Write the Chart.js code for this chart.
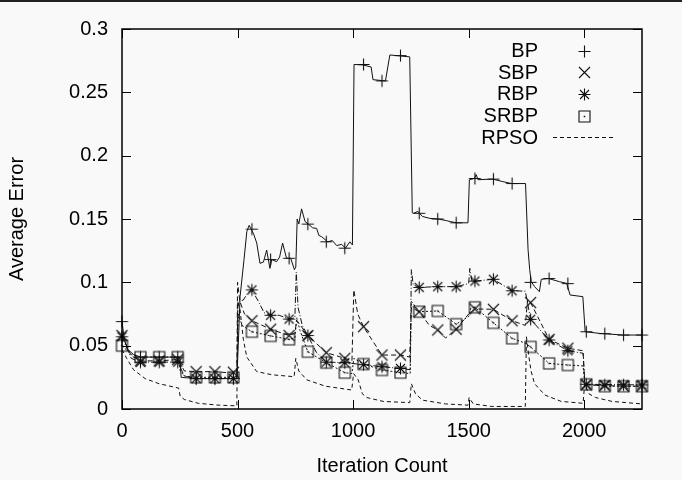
<!DOCTYPE html>
<html><head><meta charset="utf-8">
<script src="https://cdn.jsdelivr.net/npm/chart.js@4"></script>
<style>
html,body{margin:0;padding:0;background:#f9f9f9;}
#wrap{position:relative;width:682px;height:480px;overflow:hidden;}
#bar{position:absolute;left:0;top:0;width:682px;height:2px;background:#222;}
canvas{display:block;}
</style></head><body>
<div id="wrap"><canvas id="c" width="682" height="480"></canvas><div id="bar"></div></div>
<script>
const seriesNames = ['BP','SBP','RBP','SRBP','RPSO'];
const xTickValues = [0,500,1000,1500,2000];
const xTickLabels = ['0','500','1000','1500','2000'];
const yTickValues = [0,0.05,0.1,0.15,0.2,0.25,0.3];
const yTickLabels = ['0','0.05','0.1','0.15','0.2','0.25','0.3'];
const xTitle = 'Iteration Count';
const yTitle = 'Average Error';

// iterations at which the point symbols are drawn
const markerX = [0,80,161,241,321,402,482,562,643,723,804,884,964,1045,1125,1205,1286,1366,1446,1527,1607,1688,1768,1848,1929,2009,2089,2170,2250];
const bpMarks   = [0.069,0.041,0.041,0.041,0.024,0.024,0.024,0.142,0.118,0.119,0.146,0.132,0.127,0.272,0.259,0.279,0.1545,0.150,0.147,0.182,0.1815,0.178,0.100,0.103,0.099,0.061,0.0595,0.0584,0.0584];
const sbpMarks  = [0.058,0.038,0.038,0.039,0.0295,0.0295,0.029,0.0697,0.063,0.058,0.058,0.0445,0.040,0.065,0.0426,0.0426,0.0768,0.0624,0.063,0.079,0.0787,0.0697,0.084,0.055,0.048,0.019,0.0185,0.018,0.018];
const rbpMarks  = [0.057,0.037,0.037,0.037,0.024,0.024,0.024,0.094,0.074,0.071,0.058,0.037,0.0366,0.035,0.0334,0.032,0.096,0.0966,0.0966,0.101,0.1024,0.0934,0.0708,0.0545,0.046,0.0195,0.019,0.019,0.019];
const srbpMarks = [0.050,0.041,0.041,0.041,0.025,0.025,0.025,0.061,0.0577,0.055,0.0452,0.0366,0.0287,0.0355,0.0308,0.0287,0.0768,0.0774,0.067,0.0803,0.068,0.0558,0.049,0.036,0.0347,0.0195,0.018,0.018,0.018];

// traced curves [iteration, error]
const bpLine = [[0,0.069],[10,0.055],[25,0.047],[50,0.043],[80,0.041],[160,0.041],[250,0.041],[256,0.025],[320,0.024],[400,0.024],[497,0.024],[503,0.05],[511,0.089],[528,0.118],[540,0.14],[550,0.145],[557,0.1426],[570,0.138],[583,0.131],[597,0.115],[612,0.116],[626,0.1255],[640,0.111],[648,0.118],[669,0.1163],[682,0.12],[695,0.131],[712,0.119],[730,0.119],[746,0.11],[752,0.112],[758,0.15],[765,0.146],[777,0.158],[792,0.148],[806,0.146],[825,0.143],[842,0.1426],[852,0.137],[864,0.136],[890,0.132],[910,0.133],[929,0.129],[950,0.13],[967,0.127],[986,0.132],[997,0.1295],[1004,0.272],[1043,0.2716],[1078,0.27],[1086,0.26],[1140,0.259],[1159,0.2795],[1245,0.278],[1256,0.155],[1262,0.1545],[1280,0.156],[1300,0.152],[1332,0.1505],[1368,0.15],[1404,0.1487],[1420,0.148],[1447,0.147],[1497,0.147],[1503,0.181],[1525,0.182],[1533,0.185],[1540,0.181],[1604,0.1815],[1648,0.1795],[1685,0.178],[1746,0.178],[1757,0.126],[1764,0.11],[1771,0.1005],[1785,0.0966],[1806,0.0926],[1814,0.1024],[1846,0.103],[1893,0.1005],[1924,0.0992],[1939,0.09],[1994,0.0887],[2004,0.061],[2066,0.0597],[2167,0.0584],[2250,0.0584]];
const sbpLine = [[0,0.058],[40,0.042],[80,0.038],[160,0.038],[241,0.039],[255,0.035],[270,0.03],[321,0.0295],[402,0.0295],[497,0.028],[500,0.1],[510,0.085],[530,0.075],[562,0.0697],[643,0.063],[723,0.058],[748,0.06],[756,0.07],[804,0.058],[884,0.0445],[964,0.040],[995,0.038],[1003,0.094],[1020,0.075],[1045,0.065],[1080,0.055],[1125,0.0426],[1205,0.0426],[1245,0.041],[1252,0.08],[1286,0.0768],[1330,0.066],[1366,0.0624],[1400,0.056],[1446,0.063],[1500,0.075],[1527,0.079],[1607,0.0787],[1688,0.0697],[1745,0.066],[1755,0.086],[1768,0.084],[1848,0.055],[1929,0.048],[1995,0.046],[2002,0.02],[2009,0.019],[2089,0.0185],[2170,0.018],[2250,0.018]];
const rbpLine = [[0,0.057],[40,0.04],[80,0.037],[241,0.037],[252,0.033],[270,0.026],[321,0.024],[497,0.024],[502,0.085],[525,0.086],[545,0.092],[562,0.094],[590,0.085],[615,0.076],[643,0.074],[680,0.074],[723,0.071],[748,0.072],[754,0.108],[762,0.08],[780,0.066],[804,0.058],[840,0.045],[884,0.037],[964,0.0366],[1045,0.035],[1125,0.0334],[1205,0.032],[1247,0.031],[1252,0.11],[1260,0.098],[1286,0.096],[1366,0.0966],[1446,0.0966],[1500,0.099],[1505,0.111],[1515,0.1],[1527,0.101],[1607,0.1024],[1688,0.0934],[1745,0.093],[1768,0.0708],[1848,0.0545],[1929,0.046],[1995,0.044],[2003,0.02],[2009,0.0195],[2250,0.019]];
const srbpLine = [[0,0.05],[40,0.043],[80,0.041],[241,0.041],[252,0.03],[270,0.026],[321,0.025],[497,0.025],[503,0.075],[520,0.066],[562,0.061],[643,0.0577],[723,0.055],[748,0.056],[756,0.072],[770,0.062],[804,0.0452],[884,0.0366],[964,0.0287],[995,0.028],[1003,0.04],[1045,0.0355],[1125,0.0308],[1205,0.0287],[1247,0.028],[1252,0.085],[1286,0.0768],[1366,0.0774],[1446,0.067],[1500,0.073],[1510,0.08],[1527,0.0803],[1607,0.068],[1688,0.0558],[1745,0.052],[1768,0.049],[1848,0.036],[1929,0.0347],[1995,0.034],[2003,0.02],[2009,0.0195],[2089,0.018],[2250,0.018]];
const rpsoLine = [[0,0.047],[20,0.04],[50,0.031],[100,0.024],[160,0.02],[245,0.0165],[252,0.01],[270,0.0075],[330,0.0045],[420,0.003],[497,0.0025],[501,0.085],[511,0.078],[525,0.055],[540,0.041],[583,0.0295],[650,0.027],[745,0.0255],[752,0.04],[765,0.03],[800,0.023],[880,0.018],[994,0.015],[1002,0.028],[1022,0.023],[1040,0.012],[1060,0.009],[1130,0.006],[1245,0.005],[1252,0.02],[1270,0.012],[1300,0.007],[1400,0.004],[1497,0.003],[1502,0.009],[1520,0.004],[1600,0.002],[1745,0.002],[1750,0.057],[1760,0.042],[1770,0.03],[1785,0.02],[1830,0.011],[1900,0.006],[1995,0.0045],[2002,0.02],[2020,0.012],[2050,0.009],[2120,0.006],[2250,0.004]];

const FONT = '"Liberation Sans", Arial, Helvetica, sans-serif';
const INK = '#111';

function makeMarker(type){
  const s = 17, m = 8.5;
  const c = document.createElement('canvas');
  c.width = s; c.height = s;
  const g = c.getContext('2d');
  g.strokeStyle = INK; g.lineWidth = 1.1;
  g.beginPath();
  if (type === 'plus' || type === 'star') {
    g.moveTo(m - 6, m); g.lineTo(m + 6, m);
    g.moveTo(m, m - 6); g.lineTo(m, m + 6);
  }
  if (type === 'cross' || type === 'star') {
    const d = type === 'star' ? 4.5 : 5.5;
    g.moveTo(m - d, m - d); g.lineTo(m + d, m + d);
    g.moveTo(m - d, m + d); g.lineTo(m + d, m - d);
  }
  if (type === 'square') g.rect(m - 5.5, m - 5.5, 11, 11);
  g.stroke();
  if (type === 'square') { g.fillStyle = INK; g.fillRect(m - 0.75, m - 0.75, 1.5, 1.5); }
  return c;
}
const symbols = [makeMarker('plus'), makeMarker('cross'), makeMarker('star'), makeMarker('square')];

const toXY = arr => arr.map(p => ({x: p[0], y: p[1]}));
const lineDs = (label, arr, dash) => ({
  label, data: toXY(arr), showLine: true, borderColor: INK, borderWidth: 1,
  borderDash: dash, pointRadius: 0, tension: 0, fill: false
});
const markDs = (label, ys, sym) => ({
  label, data: markerX.map((x, i) => ({x, y: ys[i]})), showLine: false,
  pointStyle: sym, pointRadius: 6, clip: false
});

const frame = {
  id: 'frame',
  afterDraw(chart) {
    const {ctx, chartArea: a, scales: {x, y}} = chart;
    ctx.save();
    ctx.strokeStyle = '#000';
    ctx.lineWidth = 1.5;
    ctx.strokeRect(a.left, a.top, a.right - a.left, a.bottom - a.top);
    ctx.lineWidth = 1;
    ctx.beginPath();
    xTickValues.forEach(v => {
      const p = Math.round(x.getPixelForValue(v)) + 0.5;
      ctx.moveTo(p, a.bottom); ctx.lineTo(p, a.bottom - 9);
      ctx.moveTo(p, a.top); ctx.lineTo(p, a.top + 9);
    });
    yTickValues.forEach(v => {
      const p = Math.round(y.getPixelForValue(v)) + 0.5;
      ctx.moveTo(a.left, p); ctx.lineTo(a.left + 9, p);
      ctx.moveTo(a.right, p); ctx.lineTo(a.right - 9, p);
    });
    ctx.stroke();
    // key
    ctx.font = '20px ' + FONT;
    ctx.fillStyle = '#000';
    ctx.textAlign = 'right';
    ctx.textBaseline = 'middle';
    const tx = a.right - 104, sx = a.right - 58;
    seriesNames.forEach((name, i) => {
      const yy = a.top + 21.5 + i * 21.7;
      ctx.fillText(name, tx, yy + 1);
      if (i < 4) {
        const s = symbols[i];
        ctx.drawImage(s, Math.round(sx) - 8, Math.round(yy) - 8);
      } else {
        ctx.strokeStyle = INK;
        ctx.setLineDash([4, 3]);
        ctx.beginPath();
        ctx.moveTo(sx - 31, Math.round(yy) + 0.5);
        ctx.lineTo(sx + 29, Math.round(yy) + 0.5);
        ctx.stroke();
        ctx.setLineDash([]);
      }
    });
    ctx.restore();
  }
};

new Chart(document.getElementById('c'), {
  type: 'scatter',
  data: {
    datasets: [
      lineDs('BP curve', bpLine, []),
      lineDs('SBP curve', sbpLine, [5, 3]),
      lineDs('RBP curve', rbpLine, [6, 2, 1, 2]),
      lineDs('SRBP curve', srbpLine, [2, 2]),
      lineDs(seriesNames[4], rpsoLine, [4, 3]),
      markDs(seriesNames[0], bpMarks, symbols[0]),
      markDs(seriesNames[1], sbpMarks, symbols[1]),
      markDs(seriesNames[2], rbpMarks, symbols[2]),
      markDs(seriesNames[3], srbpMarks, symbols[3])
    ]
  },
  options: {
    responsive: false,
    animation: false,
    devicePixelRatio: 1,
    layout: {padding: {top: 29, right: 40, left: 0, bottom: 0}},
    plugins: {legend: {display: false}, tooltip: {enabled: false}},
    scales: {
      x: {
        type: 'linear', min: 0, max: 2250,
        grid: {display: false, drawTicks: false},
        border: {display: false},
        afterBuildTicks(s) { s.ticks = xTickValues.map(v => ({value: v})); },
        ticks: {
          autoSkip: false, padding: 10, color: '#000', maxRotation: 0, minRotation: 0,
          font: {family: FONT, size: 20},
          callback: v => { const i = xTickValues.indexOf(v); return i >= 0 ? xTickLabels[i] : ''; }
        },
        title: {display: true, text: xTitle, color: '#000', font: {family: FONT, size: 20}, padding: {top: 0, bottom: 2}},
        afterFit(s) { s.height = 71; }
      },
      y: {
        type: 'linear', min: 0, max: 0.3,
        grid: {display: false, drawTicks: false},
        border: {display: false},
        afterBuildTicks(s) { s.ticks = yTickValues.map(v => ({value: v})); },
        ticks: {
          autoSkip: false, padding: 14, color: '#000',
          font: {family: FONT, size: 20},
          callback: v => { const i = yTickValues.indexOf(v); return i >= 0 ? yTickLabels[i] : ''; }
        },
        title: {display: true, text: yTitle, color: '#000', font: {family: FONT, size: 20}, padding: {top: 5, bottom: 0}},
        afterFit(s) { s.width = 122; }
      }
    }
  },
  plugins: [frame]
});
</script>
</body></html>
